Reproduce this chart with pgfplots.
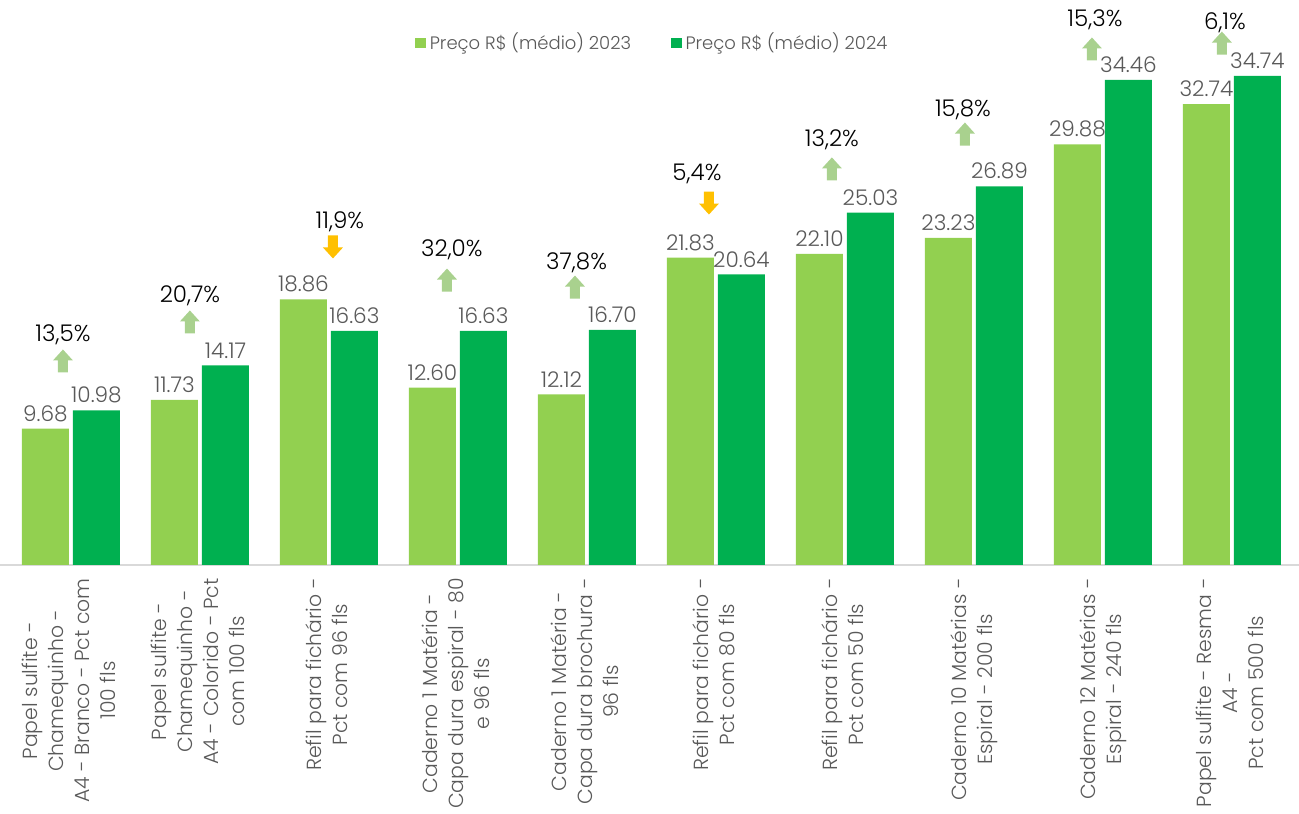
\documentclass[border=0pt]{standalone}
\usepackage{pgfplots}
\pgfplotsset{compat=1.18}
\usepackage{fontspec}
\setmainfont{Poppins Light}
\definecolor{c23}{HTML}{92D050}
\definecolor{c24}{HTML}{00B050}
\definecolor{upg}{HTML}{A9D18E}
\definecolor{downo}{HTML}{FFC000}
\definecolor{txtg}{HTML}{595959}
\definecolor{axg}{HTML}{D9D9D9}
\newcommand{\tl}[1]{\begin{tabular}{@{}c@{}}#1\end{tabular}}
\pgfdeclareplotmark{uparr}{%
 \pgfpathmoveto{\pgfqpoint{-2.5pt}{-5.75pt}}%
 \pgfpathlineto{\pgfqpoint{2.5pt}{-5.75pt}}%
 \pgfpathlineto{\pgfqpoint{2.5pt}{0.25pt}}%
 \pgfpathlineto{\pgfqpoint{5pt}{0.25pt}}%
 \pgfpathlineto{\pgfqpoint{0pt}{5.75pt}}%
 \pgfpathlineto{\pgfqpoint{-5pt}{0.25pt}}%
 \pgfpathlineto{\pgfqpoint{-2.5pt}{0.25pt}}%
 \pgfpathclose
 \pgfusepathqfill}
\pgfdeclareplotmark{downarr}{%
 \pgfpathmoveto{\pgfqpoint{-2.5pt}{5.75pt}}%
 \pgfpathlineto{\pgfqpoint{2.5pt}{5.75pt}}%
 \pgfpathlineto{\pgfqpoint{2.5pt}{-0.25pt}}%
 \pgfpathlineto{\pgfqpoint{5pt}{-0.25pt}}%
 \pgfpathlineto{\pgfqpoint{0pt}{-5.75pt}}%
 \pgfpathlineto{\pgfqpoint{-5pt}{-0.25pt}}%
 \pgfpathlineto{\pgfqpoint{-2.5pt}{-0.25pt}}%
 \pgfpathclose
 \pgfusepathqfill}
\begin{document}
\begin{tikzpicture}
\begin{axis}[
  scale only axis,
  width=649.5pt, height=282.5pt,
  xmin=-0.55, xmax=9.52,
  ymin=0, ymax=40.13,
  clip=false,
  axis y line=none,
  axis x line*=bottom,
  x axis line style={draw=axg, line width=1pt, -},
  xtick={0,...,9},
  xtick style={draw=none},
  xticklabels={
    {\tl{Papel sulfite -\\Chamequinho -\\A4 - Branco - Pct com\\100 fls}},
    {\tl{Papel sulfite -\\Chamequinho -\\A4 - Colorido - Pct\\com 100 fls}},
    {\tl{Refil para fichário -\\Pct com 96 fls}},
    {\tl{Caderno 1 Matéria -\\Capa dura espiral - 80\\e 96 fls}},
    {\tl{Caderno 1 Matéria -\\Capa dura brochura -\\96 fls}},
    {\tl{Refil para fichário -\\Pct com 80 fls}},
    {\tl{Refil para fichário -\\Pct com 50 fls}},
    {\tl{Caderno 10 Matérias -\\Espiral - 200 fls}},
    {\tl{Caderno 12 Matérias -\\Espiral - 240 fls}},
    {\tl{Papel sulfite - Resma -\\A4 -\\Pct com 500 fls}}},
  x tick label style={rotate=90, anchor=east, text=txtg,
    font=\fontsize{10.2}{13}\selectfont, inner sep=0pt, xshift=-6.5pt},
  /pgf/number format/assume math mode=true,
  legend style={draw=none, fill=none, at={(axis description cs:0.503,0.924)},
    anchor=center, font=\fontsize{9}{11}\selectfont, text=txtg,
    /tikz/every even column/.append style={column sep=18pt}},
  legend columns=2,
  legend image code/.code={\fill[#1] (0pt,-2.6pt) rectangle (5.2pt,2.6pt);},
]
\coordinate (bl) at (rel axis cs:0,0);
\coordinate (tr) at (rel axis cs:1,1);
\addplot[ybar, bar width=23.5pt, bar shift=-12.75pt, fill=c23, draw=none,
  nodes near coords={\pgfmathprintnumber[fixed,fixed zerofill,precision=2]{\pgfplotspointmeta}},
  every node near coord/.append style={text=txtg, xshift=-12.75pt, font=\fontsize{10.8}{12}\selectfont}]
  coordinates {(0,9.68) (1,11.73) (2,18.86) (3,12.60) (4,12.12) (5,21.83) (6,22.10) (7,23.23) (8,29.88) (9,32.74)};
\addlegendentry{Preço R\$ (médio) 2023}
\addplot[ybar, bar width=23.5pt, bar shift=12.75pt, fill=c24, draw=none,
  nodes near coords={\pgfmathprintnumber[fixed,fixed zerofill,precision=2]{\pgfplotspointmeta}},
  every node near coord/.append style={text=txtg, xshift=12.75pt, font=\fontsize{10.8}{12}\selectfont}]
  coordinates {(0,10.98) (1,14.17) (2,16.63) (3,16.63) (4,16.70) (5,20.64) (6,25.03) (7,26.89) (8,34.46) (9,34.74)};
\addlegendentry{Preço R\$ (médio) 2024}
\addplot[only marks, mark=uparr, mark options={fill=upg, draw=none}, forget plot]
  table {
x y
-0.062 14.49
0.922 17.26
2.915 20.24
3.907 19.74
5.899 28.13
6.930 30.61
7.915 36.65
8.922 37.07
};
\addplot[only marks, mark=downarr, mark options={fill=downo, draw=none}, forget plot]
  table {
x y
2.031 22.59
4.946 25.71
};
\addplot[only marks, mark=none, forget plot, point meta=\thisrow{v},
  nodes near coords={\pgfmathprintnumber[fixed,fixed zerofill,precision=1,use comma]{\pgfplotspointmeta}\%},
  every node near coord/.append style={anchor=center, inner sep=0.5pt, text=black, font=\fontsize{11.5}{12}\selectfont}]
  table {
x y v
-0.062 16.34 13.5
0.922 19.10 20.7
2.085 24.36 11.9
2.953 22.37 32.0
3.92 21.45 37.8
4.853 27.77 5.4
5.899 30.18 13.2
6.915 32.32 15.8
7.938 38.71 15.3
8.946 38.49 6.1
};
\end{axis}
\pgfresetboundingbox
\path (bl) ++(0,-124.5pt) rectangle (tr);
\end{tikzpicture}
\end{document}
